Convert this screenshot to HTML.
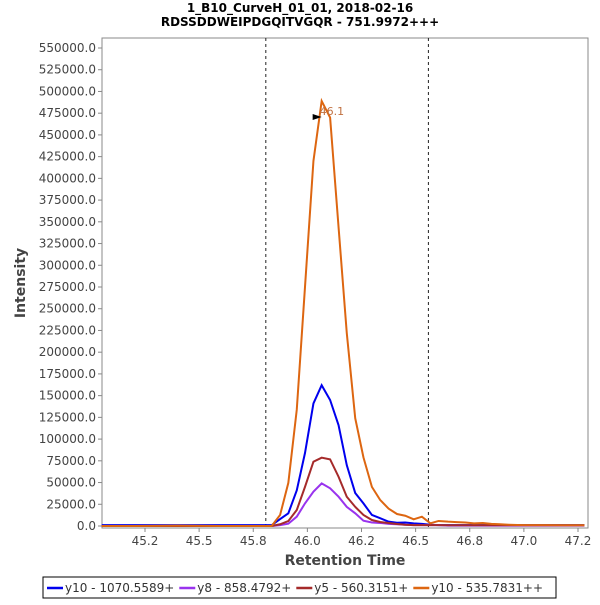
<!DOCTYPE html>
<html><head><meta charset="utf-8"><style>
body{margin:0;background:#fff;width:600px;height:600px;overflow:hidden;font-family:"Liberation Sans","DejaVu Sans",sans-serif}
</style></head><body>
<svg id="c" width="600" height="600" xmlns="http://www.w3.org/2000/svg" font-family="DejaVu Sans, Liberation Sans, sans-serif">
<text x="300" y="12" text-anchor="middle" font-size="12" font-weight="bold">1_B10_CurveH_01_01, 2018-02-16</text>
<text x="300" y="26" text-anchor="middle" font-size="12" font-weight="bold">RDSSDDWEIPDGQITVGQR - 751.9972+++</text>
<rect x="102" y="38" width="486" height="490" fill="#fff" stroke="#888"/>
<g id="yt"></g><g id="xt"></g><g id="series"></g>
<text transform="translate(25,283) rotate(-90)" text-anchor="middle" font-size="14" font-weight="bold" fill="#444">Intensity</text>
<text x="345" y="565" text-anchor="middle" font-size="14" font-weight="bold" fill="#444">Retention Time</text>
<g>
<rect x="43" y="577" width="513" height="21" fill="#fff" stroke="#000"/>
<g id="leg"></g>
</g>
</svg>
<script>
const times=[45.05,45.2,45.4,45.6,45.76,45.835,45.874,45.912,45.951,45.989,46.028,46.066,46.105,46.144,46.182,46.221,46.259,46.298,46.336,46.375,46.414,46.452,46.491,46.529,46.568,46.606,46.65,46.69,46.73,46.77,46.81,46.85,46.89,46.93,46.97,47.01,47.09,47.18,47.28];
const y10a=[1000,1000,1000,1000,1000,1000,8000,14600,41000,84000,141000,162000,145000,116000,70000,38000,26000,12700,9000,5000,3800,4000,3000,2500,1500,1000,1000,1000,1000,1000,1000,1000,1000,1000,1000,1000,1000,1000,1000];
const y8=[0,0,0,0,0,0,1000,2600,10700,26000,39500,49000,43400,33700,22000,14600,6100,4000,3500,2500,2000,1500,1000,1000,1000,1000,500,500,500,500,500,500,500,500,500,500,500,500,500];
const y5=[0,0,0,0,0,0,2000,5700,18400,45000,74000,78600,76700,56700,33700,22000,12700,6900,4600,3500,2300,1500,1000,1000,1000,1000,800,800,800,800,800,800,800,800,800,800,800,800,800];
const y10b=[0,0,500,0,0,0,12700,49600,133800,275000,420000,489000,470000,344000,222000,124000,79000,45000,30000,20000,13800,11800,7700,10700,3100,5800,5000,4500,4000,3000,3500,2500,2000,1500,1200,1000,1000,800,800];
const seriesNames=["y10 - 1070.5589+","y8 - 858.4792+","y5 - 560.3151+","y10 - 535.7831++"];
const seriesColors=["#0000ee","#9933ee","#a52a2a","#dd6611"];
const yTicks=[0,25000,50000,75000,100000,125000,150000,175000,200000,225000,250000,275000,300000,325000,350000,375000,400000,425000,450000,475000,500000,525000,550000];
const xTicks=[45.25,45.5,45.75,46.0,46.25,46.5,46.75,47.0,47.25];
const xTickLabels=["45.2","45.5","45.8","46.0","46.2","46.5","46.8","47.0","47.2"];
const markers=[45.808,46.559];
const X=t=>145+(t-45.25)*216.5;
const Y=v=>526-v*478/550000;
const NS="http://www.w3.org/2000/svg";
function mk(tag,attrs,parent){const e=document.createElementNS(NS,tag);for(const k in attrs)e.setAttribute(k,attrs[k]);parent.appendChild(e);return e;}
const yt=document.getElementById('yt'),xt=document.getElementById('xt'),sg=document.getElementById('series'),lg=document.getElementById('leg');
yTicks.forEach(v=>{
 const l=mk('line',{x1:98,x2:102,y1:Y(v),y2:Y(v),stroke:'#888'},yt);
 
 
 const t=mk('text',{x:96,y:Y(v)+4,'text-anchor':'end','font-size':12,fill:'#444'},yt);
 
 
 t.textContent=v.toFixed(1);
});
xTicks.forEach((v,i)=>{
 const l=mk('line',{x1:X(v),x2:X(v),y1:528,y2:532,stroke:'#888'},xt);
 
 
 const t=mk('text',{x:X(v),y:545,'text-anchor':'middle','font-size':12,fill:'#444'},xt);
 
 
 t.textContent=xTickLabels[i];
});
markers.forEach(m=>{
 const l=mk('line',{x1:X(m),x2:X(m),y1:38,y2:528,stroke:'#222','stroke-dasharray':'3,3'},sg);
 
 
});
[y10a,y8,y5,y10b].forEach((s,k)=>{
 const p=mk('polyline',{points:s.map((v,i)=>X(times[i])+','+Y(v)).join(' '),fill:'none',stroke:seriesColors[k],'stroke-width':2},sg);
 
 
});
let pi=0;y10b.forEach((v,i)=>{if(v>y10b[pi])pi=i;});
const an=mk('text',{x:X(times[pi])-2,y:Y(y10b[pi])+14,'font-size':11,fill:'#c07040'},sg);


an.textContent=times[pi].toFixed(1);
const ar=mk('polygon',{points:`${X(times[pi])-9},${Y(y10b[pi])+13} ${X(times[pi])},${Y(y10b[pi])+16} ${X(times[pi])-9},${Y(y10b[pi])+19}`,fill:'#000'},sg);


let lx=47;
seriesNames.forEach((n,k)=>{
 const l=mk('line',{x1:lx,x2:lx+16,y1:588,y2:588,stroke:seriesColors[k],'stroke-width':2.5},lg);
 
 
 const t=mk('text',{x:lx+18,y:592,'font-size':12,fill:'#333'},lg);
 
 
 t.textContent=n;
 lx+=18+t.getComputedTextLength()+5;
});
</script>
</body></html>
